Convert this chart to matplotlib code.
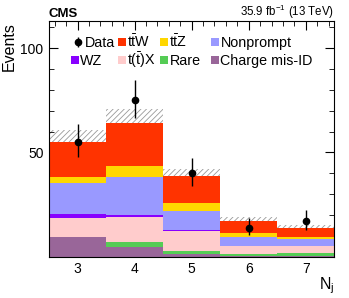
import numpy as np
import matplotlib
matplotlib.use("Agg")
import matplotlib.pyplot as plt
from matplotlib.patches import Rectangle
from matplotlib.ticker import MultipleLocator

plt.rcParams["font.family"] = ["Liberation Sans", "DejaVu Sans"]
plt.rcParams["mathtext.fontset"] = "custom"
plt.rcParams["mathtext.rm"] = "Liberation Sans"
plt.rcParams["mathtext.it"] = "Liberation Sans:italic"
plt.rcParams["hatch.linewidth"] = 0.6

# jet multiplicity bins
njets = [3, 4, 5, 6, 7]

# stacked backgrounds, bottom to top
charge_misid = [9.3, 4.5, 1.4, 0.2, 0.2]
rare = [0.3, 2.7, 1.6, 1.0, 1.8]
ttx = [8.8, 11.7, 9.5, 4.0, 3.2]
wz = [2.1, 0.9, 0.4, 0.1, 0.1]
nonprompt = [14.7, 18.5, 9.0, 4.0, 3.2]
ttz = [3.1, 5.1, 4.0, 2.2, 1.1]
ttw = [16.8, 20.9, 12.8, 5.8, 4.0]
bkg_unc = [5.6, 6.4, 3.6, 1.9, 1.6]

# observed data
data = [55, 75, 40, 14, 17]
data_err_lo = [7.4, 8.6, 6.3, 3.7, 4.1]
data_err_hi = [8.5, 9.7, 7.4, 4.8, 5.2]

components = [
    ("Charge mis-ID", charge_misid, "#996699"),
    ("Rare", rare, "#55cc55"),
    (r"t($\bar{\rm t}$)X", ttx, "#ffcccc"),
    ("WZ", wz, "#8800ff"),
    ("Nonprompt", nonprompt, "#9999ff"),
    (r"t$\bar{\rm t}$Z", ttz, "#ffd700"),
    (r"t$\bar{\rm t}$W", ttw, "#ff3300"),
]
colors = {name: col for name, _, col in components}

fig = plt.figure(figsize=(3.49, 2.98), dpi=100)
ax = fig.add_axes([0.1404, 0.1383, 0.8176, 0.7912])

x = np.array(njets)
bottom = np.zeros(len(x))
for name, vals, col in components:
    ax.bar(x, vals, width=1.0, bottom=bottom, color=col, linewidth=0, zorder=2)
    bottom = bottom + np.array(vals)

total = bottom
unc = np.array(bkg_unc)
ax.bar(x, 2 * unc, width=1.0, bottom=total - unc, fill=False, hatch="//////",
       edgecolor="#999999", linewidth=0, zorder=1.5)

ax.errorbar(x, data, yerr=[data_err_lo, data_err_hi], fmt="o", color="black",
            markersize=4.5, elinewidth=1.0, capsize=0, zorder=5)

# ROOT-style legend, two rows of four entries (axes fractions)
rows = [[r"t$\bar{\rm t}$W", r"t$\bar{\rm t}$Z", "Nonprompt"],
        ["WZ", r"t($\bar{\rm t}$)X", "Rare", "Charge mis-ID"]]
row_y = [0.911, 0.835]
box_x = [0.0771, 0.2419, 0.389, 0.568]
bw, bh = 0.028, 0.034
ty_off = -0.021
leg_fs = 10.3

# data entry
ax.errorbar([0.1006], [row_y[0]], yerr=[[0.02], [0.02]], fmt="o", color="black",
            markersize=4.5, elinewidth=1.0, capsize=0, transform=ax.transAxes,
            clip_on=False, zorder=6)
ax.text(0.126, row_y[0] + ty_off, "Data", transform=ax.transAxes,
        fontsize=leg_fs, va="baseline", ha="left", zorder=6)
for r, labels in enumerate(rows):
    cols = box_x[1:] if r == 0 else box_x
    for bx, lab in zip(cols, labels):
        ax.add_patch(Rectangle((bx, row_y[r] - bh / 2), bw, bh, transform=ax.transAxes,
                               facecolor=colors[lab], edgecolor="none", zorder=6))
        ax.text(bx + 0.033, row_y[r] + ty_off, lab, transform=ax.transAxes,
                fontsize=leg_fs, va="baseline", ha="left", zorder=6)

ax.set_xlim(2.5, 7.5)
ax.set_ylim(0, 113)
ax.set_xticks(njets)
ax.set_yticks([50, 100])
ax.xaxis.set_minor_locator(MultipleLocator(0.2))
ax.yaxis.set_minor_locator(MultipleLocator(10))
ax.tick_params(which="both", direction="in", top=True, right=True, labelsize=10)
ax.tick_params(which="major", length=6.5, pad=4)
ax.tick_params(which="minor", length=3.5)

fig.text(0.026, 0.926, "Events", fontsize=11.5, rotation=90, ha="center", va="top")
ax.set_xlabel(r"N$_{\rm j}$", loc="right", fontsize=11.5, labelpad=-1)

fig.text(0.1404, 0.943, "CMS", fontsize=9.5, fontweight="bold", ha="left", va="baseline")
fig.text(0.958, 0.945, r"35.9 fb$^{-1}$ (13 TeV)", fontsize=8.3, ha="right", va="baseline")

fig.savefig("out.png", dpi=100)
